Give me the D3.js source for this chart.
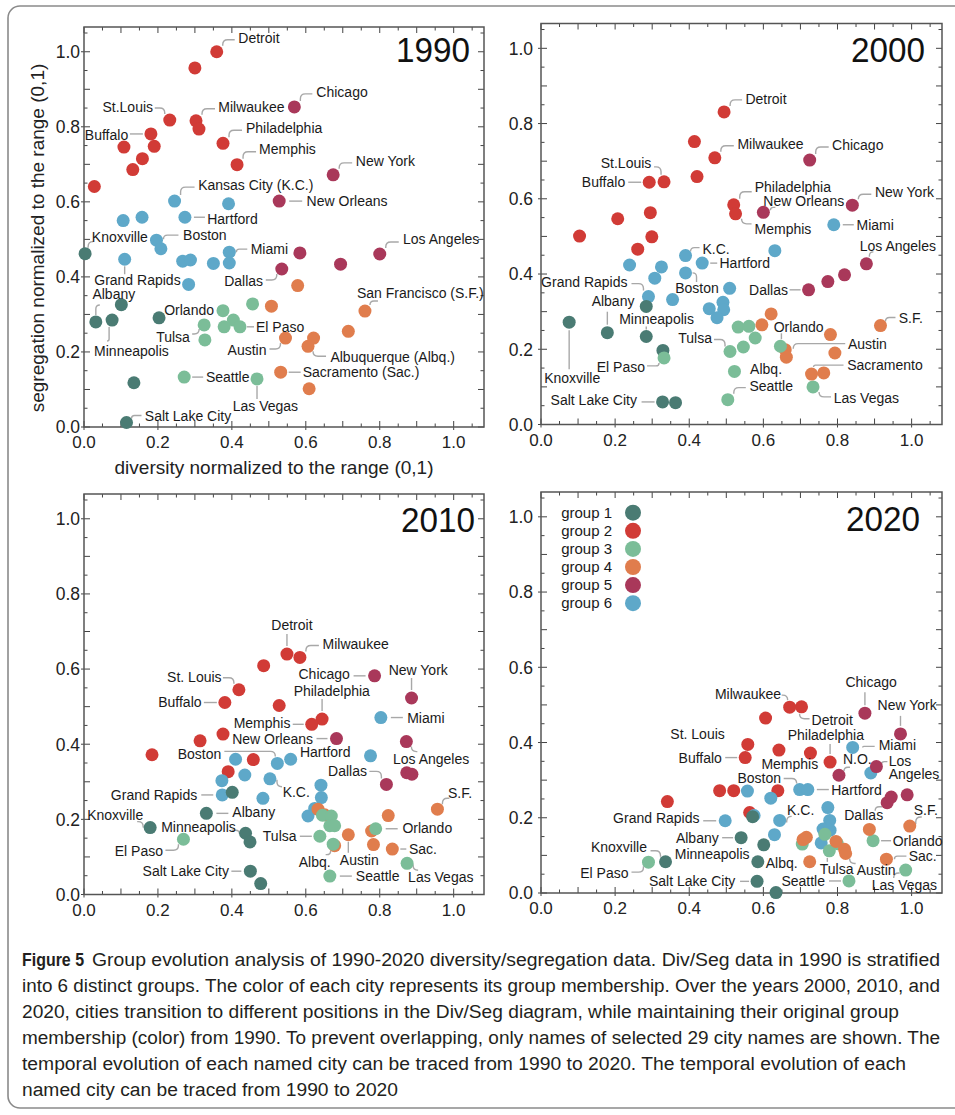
<!DOCTYPE html>
<html>
<head>
<meta charset="utf-8">
<script src="https://cdn.jsdelivr.net/npm/d3@7"></script>
<style>
body { margin: 0; background: #fff; }
svg text { font-family: 'Liberation Sans', Arial, Helvetica, sans-serif; }
</style>
</head>
<body>
<svg width="955" height="1115"></svg>
<script>
// group colours / legend
var groupColors = ["#4a7b73", "#d13b36", "#7bbd98", "#e07d4d", "#a9385a", "#5ea8c9"]
var groupNames = ["group 1", "group 2", "group 3", "group 4", "group 5", "group 6"]
var tickValues = [0, 0.2, 0.4, 0.6, 0.8, 1.0]

// [name, diversity, segregation, group]
var cities1990 = [
  ["Detroit", 0.359, 1.000, 2], ["", 0.300, 0.957, 2], ["Chicago", 0.569, 0.853, 5],
  ["St.Louis", 0.232, 0.818, 2], ["Milwaukee", 0.303, 0.816, 2], ["", 0.311, 0.794, 2],
  ["Buffalo", 0.181, 0.781, 2], ["", 0.108, 0.746, 2], ["", 0.190, 0.748, 2],
  ["Philadelphia", 0.376, 0.756, 2], ["", 0.158, 0.715, 2], ["", 0.132, 0.686, 2],
  ["Memphis", 0.414, 0.699, 2], ["New York", 0.674, 0.672, 5], ["", 0.028, 0.641, 2],
  ["Kansas City (K.C.)", 0.245, 0.602, 6], ["", 0.391, 0.595, 6], ["New Orleans", 0.528, 0.602, 5],
  ["", 0.106, 0.550, 6], ["", 0.157, 0.559, 6], ["Hartford", 0.273, 0.559, 6],
  ["Boston", 0.196, 0.498, 6], ["", 0.208, 0.475, 6], ["Knoxville", 0.003, 0.462, 1],
  ["Grand Rapids", 0.110, 0.447, 6], ["", 0.267, 0.442, 6], ["", 0.288, 0.445, 6],
  ["", 0.350, 0.436, 6], ["Miami", 0.393, 0.466, 6], ["", 0.393, 0.437, 6],
  ["", 0.283, 0.380, 6], ["", 0.584, 0.464, 5], ["Dallas", 0.535, 0.421, 5],
  ["", 0.694, 0.434, 5], ["Los Angeles", 0.800, 0.461, 5], ["", 0.578, 0.377, 4],
  ["", 0.456, 0.328, 3], ["", 0.507, 0.322, 4], ["San Francisco (S.F.)", 0.760, 0.309, 4],
  ["", 0.101, 0.326, 1], ["Albany", 0.032, 0.280, 1], ["Minneapolis", 0.076, 0.285, 1],
  ["", 0.203, 0.291, 1], ["Orlando", 0.376, 0.310, 3], ["", 0.404, 0.285, 3],
  ["", 0.379, 0.267, 3], ["El Paso", 0.422, 0.267, 3], ["Tulsa", 0.325, 0.272, 3],
  ["", 0.327, 0.232, 3], ["", 0.715, 0.255, 4], ["Austin", 0.545, 0.237, 4],
  ["", 0.621, 0.237, 4], ["Albuquerque (Albq.)", 0.606, 0.215, 4], ["Seattle", 0.271, 0.133, 3],
  ["Las Vegas", 0.468, 0.128, 3], ["Sacramento (Sac.)", 0.532, 0.146, 4], ["", 0.609, 0.102, 4],
  ["", 0.135, 0.118, 1], ["Salt Lake City", 0.115, 0.012, 1]
]

var cities2000 = [
  ["Detroit", 0.494, 0.831, 2], ["", 0.414, 0.752, 2], ["Milwaukee", 0.469, 0.709, 2],
  ["Chicago", 0.725, 0.703, 5], ["", 0.421, 0.659, 2], ["Buffalo", 0.292, 0.644, 2],
  ["St.Louis", 0.332, 0.645, 2], ["Philadelphia", 0.520, 0.584, 2], ["Memphis", 0.525, 0.560, 2],
  ["New Orleans", 0.600, 0.564, 5], ["New York", 0.840, 0.583, 5], ["Miami", 0.790, 0.531, 6],
  ["", 0.207, 0.547, 2], ["", 0.295, 0.563, 2], ["", 0.104, 0.501, 2],
  ["", 0.299, 0.499, 2], ["", 0.261, 0.466, 2], ["K.C.", 0.390, 0.449, 6],
  ["Hartford", 0.435, 0.429, 6], ["", 0.631, 0.462, 6], ["Los Angeles", 0.878, 0.427, 5],
  ["", 0.819, 0.398, 5], ["", 0.774, 0.380, 5], ["Dallas", 0.722, 0.358, 5],
  ["", 0.239, 0.424, 6], ["", 0.325, 0.419, 6], ["Boston", 0.390, 0.403, 6],
  ["", 0.307, 0.389, 6], ["", 0.509, 0.362, 6], ["Grand Rapids", 0.290, 0.340, 6],
  ["", 0.355, 0.332, 6], ["", 0.491, 0.325, 6], ["", 0.454, 0.308, 6],
  ["", 0.493, 0.305, 6], ["", 0.475, 0.284, 6], ["Albany", 0.179, 0.244, 1],
  ["", 0.284, 0.314, 1], ["Minneapolis", 0.284, 0.234, 1], ["Knoxville", 0.076, 0.272, 1],
  ["", 0.329, 0.197, 1], ["El Paso", 0.332, 0.177, 3], ["Salt Lake City", 0.328, 0.060, 1],
  ["", 0.363, 0.058, 1], ["", 0.532, 0.259, 3], ["", 0.561, 0.261, 3],
  ["", 0.578, 0.230, 3], ["", 0.546, 0.206, 3], ["Tulsa", 0.510, 0.194, 3],
  ["", 0.522, 0.141, 3], ["Seattle", 0.504, 0.066, 3], ["", 0.621, 0.294, 4],
  ["", 0.596, 0.265, 4], ["Austin", 0.659, 0.199, 4], ["Albq.", 0.662, 0.179, 4],
  ["Orlando", 0.646, 0.208, 3], ["Las Vegas", 0.734, 0.100, 3], ["", 0.781, 0.239, 4],
  ["", 0.793, 0.190, 4], ["Sacramento", 0.730, 0.134, 4], ["", 0.763, 0.137, 4],
  ["S.F.", 0.916, 0.263, 4]
]

var cities2010 = [
  ["Detroit", 0.549, 0.640, 2], ["Milwaukee", 0.584, 0.631, 2], ["", 0.486, 0.609, 2],
  ["Chicago", 0.786, 0.582, 5], ["St. Louis", 0.419, 0.545, 2], ["New York", 0.886, 0.523, 5],
  ["Buffalo", 0.381, 0.511, 2], ["", 0.528, 0.503, 2], ["Philadelphia", 0.644, 0.467, 2],
  ["Memphis", 0.616, 0.453, 2], ["Miami", 0.803, 0.471, 6], ["New Orleans", 0.683, 0.415, 5],
  ["Los Angeles", 0.872, 0.407, 5], ["", 0.376, 0.427, 2], ["", 0.314, 0.409, 2],
  ["", 0.184, 0.372, 2], ["", 0.458, 0.359, 2], ["", 0.390, 0.327, 2],
  ["", 0.410, 0.360, 6], ["Boston", 0.523, 0.349, 6], ["Hartford", 0.559, 0.360, 6],
  ["", 0.775, 0.369, 6], ["", 0.873, 0.324, 5], ["", 0.887, 0.320, 5],
  ["Dallas", 0.818, 0.293, 5], ["", 0.373, 0.303, 6], ["", 0.435, 0.318, 6],
  ["K.C.", 0.503, 0.308, 6], ["Grand Rapids", 0.374, 0.265, 6], ["", 0.484, 0.256, 6],
  ["", 0.641, 0.291, 6], ["", 0.642, 0.258, 6], ["", 0.624, 0.229, 6],
  ["", 0.606, 0.209, 6], ["", 0.401, 0.272, 1], ["Albany", 0.331, 0.216, 1],
  ["Knoxville", 0.179, 0.178, 1], ["Minneapolis", 0.437, 0.163, 1], ["", 0.449, 0.140, 1],
  ["Salt Lake City", 0.450, 0.062, 1], ["", 0.478, 0.029, 1], ["", 0.633, 0.227, 4],
  ["", 0.651, 0.212, 4], ["Austin", 0.715, 0.159, 4], ["", 0.778, 0.169, 4],
  ["", 0.783, 0.133, 4], ["Sac.", 0.834, 0.121, 4], ["", 0.823, 0.210, 4],
  ["S.F.", 0.956, 0.227, 4], ["Albq.", 0.678, 0.130, 4], ["El Paso", 0.269, 0.147, 3],
  ["Tulsa", 0.638, 0.155, 3], ["", 0.645, 0.211, 3], ["", 0.669, 0.209, 3],
  ["", 0.665, 0.183, 3], ["", 0.678, 0.183, 3], ["", 0.674, 0.134, 3],
  ["Orlando", 0.789, 0.175, 3], ["Las Vegas", 0.874, 0.083, 3], ["Seattle", 0.665, 0.049, 3]
]

var cities2020 = [
  ["Milwaukee", 0.671, 0.494, 2], ["Detroit", 0.703, 0.495, 2], ["", 0.606, 0.465, 2],
  ["Chicago", 0.874, 0.478, 5], ["New York", 0.970, 0.423, 5], ["St. Louis", 0.558, 0.395, 2],
  ["Buffalo", 0.551, 0.360, 2], ["", 0.642, 0.380, 2], ["", 0.727, 0.372, 2],
  ["Philadelphia", 0.780, 0.348, 2], ["Miami", 0.841, 0.387, 6], ["N.O.", 0.804, 0.313, 5],
  ["", 0.890, 0.319, 6], ["Los\nAngeles", 0.905, 0.336, 5], ["", 0.482, 0.272, 2],
  ["", 0.520, 0.272, 2], ["Memphis", 0.639, 0.272, 2], ["", 0.557, 0.271, 6],
  ["Boston", 0.698, 0.275, 6], ["Hartford", 0.720, 0.275, 6], ["", 0.620, 0.252, 6],
  ["", 0.341, 0.243, 2], ["Dallas", 0.934, 0.240, 5], ["", 0.945, 0.255, 5],
  ["", 0.988, 0.261, 5], ["", 0.563, 0.214, 2], ["", 0.575, 0.206, 6],
  ["", 0.571, 0.203, 1], ["Grand Rapids", 0.497, 0.192, 6], ["K.C.", 0.644, 0.193, 6],
  ["", 0.774, 0.227, 6], ["", 0.779, 0.193, 6], ["", 0.761, 0.170, 6],
  ["", 0.780, 0.167, 6], ["", 0.630, 0.155, 6], ["", 0.756, 0.133, 6],
  ["Albany", 0.540, 0.147, 1], ["", 0.601, 0.128, 1], ["Minneapolis", 0.585, 0.083, 1],
  ["Knoxville", 0.336, 0.083, 1], ["Salt Lake City", 0.583, 0.031, 1], ["", 0.634, 0.001, 1],
  ["El Paso", 0.290, 0.082, 3], ["", 0.766, 0.156, 3], ["", 0.800, 0.131, 3],
  ["Tulsa", 0.778, 0.112, 3], ["", 0.705, 0.130, 3], ["Orlando", 0.896, 0.139, 3],
  ["Seattle", 0.831, 0.032, 3], ["Las Vegas", 0.984, 0.061, 3], ["", 0.707, 0.142, 4],
  ["", 0.716, 0.148, 4], ["", 0.796, 0.137, 4], ["", 0.819, 0.116, 4],
  ["Austin", 0.822, 0.105, 4], ["Albq.", 0.725, 0.083, 4], ["", 0.886, 0.169, 4],
  ["Sac.", 0.932, 0.090, 4], ["S.F.", 0.995, 0.178, 4]
]

// label placement: [text dx, text dy, anchor, leader sx, sy, ex, ey] (pixel offsets from the dot)
var labels1990 = {
  "Detroit": [21.6, -13.4, "start", 6, -6, 18, -12],
  "Chicago": [22, -15, "start", 6, -6, 18, -13],
  "St.Louis": [-16.7, -12.7, "end", -5, -6, -15, -12],
  "Milwaukee": [22.3, -13.4, "start", 6, -6, 19, -12],
  "Buffalo": [-22.7, 1, "end", -8, 0, -21, 0],
  "Philadelphia": [23, -15, "start", 6, -6, 19, -13],
  "Memphis": [22, -15.4, "start", 6, -6, 19, -13],
  "New York": [22.7, -13.7, "start", 6, -6, 19, -12],
  "Kansas City (K.C.)": [23.6, -16, "start", 6, -6, 20, -14],
  "New Orleans": [27.4, 0, "start", 10, 0, 23, 0],
  "Hartford": [22.3, 1.3, "start", 9, 0, 20, 0],
  "Boston": [26.6, -5, "start", 7, -1, 22, -5],
  "Knoxville": [6.7, -16.6, "start", 3, -6, 8, -12],
  "Miami": [21.4, -2.7, "start", 7, 0, 18, -3],
  "Los Angeles": [23.3, -15.4, "start", 6, -6, 19, -12],
  "Grand Rapids": [-30.4, 21, "start", 0, 7, 0, 15],
  "Dallas": [-18.7, 12.3, "end", -5, 5, -16, 11],
  "San Francisco (S.F.)": [-8, -18, "start", 5, -6, 13, -10],
  "Albany": [-3.4, -27.7, "start", 0, -7, 4, -17],
  "Orlando": [-9, -1, "end"],
  "El Paso": [16, 0, "start", 7, 0, 14, 0],
  "Tulsa": [-14.3, 11.7, "end", -5, 4, -12, 9],
  "Minneapolis": [-18, 30.7, "start", -3, 7, -5, 21],
  "Austin": [-19, 11.6, "end", -5, 5, -16, 11],
  "Albuquerque (Albq.)": [22.4, 10.7, "start", 5, 5, 18, 10],
  "Sacramento (Sac.)": [22, 0, "start", 8, 0, 20, 0],
  "Seattle": [21.7, 0, "start", 8, 0, 19, 0],
  "Las Vegas": [-24.3, 27.3, "start", 0, 7, 0, 20],
  "Salt Lake City": [18.3, -6.3, "start", 5, -4, 15, -7]
}

var labels2000 = {
  "Detroit": [21.3, -13.3, "start", 6, -6, 18, -12],
  "Milwaukee": [22.6, -13.7, "start", 6, -6, 19, -12],
  "Chicago": [22.4, -15.3, "start", 6, -6, 19, -13],
  "St.Louis": [-12.7, -18.7, "end", -3, -7, -10, -15],
  "Buffalo": [-24, 0, "end", -8, 0, -21, 0],
  "Philadelphia": [21, -17.5, "start", 6, -6, 18, -13],
  "New Orleans": [0, -11, "start", 7, -2, 12, -5],
  "New York": [22.6, -13, "start", 6, -6, 19, -11],
  "Memphis": [19, 15, "start", 6, 5, 16, 10],
  "Miami": [22.7, 0, "start", 9, 0, 20, 0],
  "K.C.": [17, -6.7, "start", 5, -4, 14, -8],
  "Hartford": [17.3, 0, "start", 8, 0, 15, 0],
  "Los Angeles": [-6.7, -18.3, "start", 3, -7, 7, -12],
  "Grand Rapids": [-21, -15, "end", -5, -6, -17, -13],
  "Boston": [-10.3, 15, "start", 11, 9, 7, 0],
  "Dallas": [-20.6, 0, "end", -8, 0, -19, 0],
  "Albany": [5.7, -31.6, "middle", 0, -8, 0, -21],
  "Minneapolis": [10.3, -17.7, "middle", 0, -7, 0, -10],
  "S.F.": [18.3, -7.3, "start", 5, -4, 15, -8],
  "Orlando": [-6.7, -19.3, "start", 1, -7, 1, -13],
  "Austin": [62.7, -6, "start", 8, -1, 60, -6],
  "Tulsa": [-18, -13.3, "end", -5, -5, -16, -12],
  "Albq.": [-4.3, 12, "end"],
  "El Paso": [-19, 9, "end", -5, 5, -17, 8],
  "Sacramento": [35.7, -9.4, "start", 2, -7, 32, -9],
  "Seattle": [21.6, -13.6, "start", 6, -6, 18, -12],
  "Knoxville": [3, 55.6, "middle", 0, 8, 0, 47],
  "Las Vegas": [20.6, 10.6, "start", 6, 5, 18, 10],
  "Salt Lake City": [-25.6, -1.7, "end", -8, 0, -21, 0]
}

var labels2010 = {
  "Detroit": [5, -29.3, "middle", 0, -8, 0, -20],
  "Milwaukee": [22.7, -13.7, "start", 6, -6, 19, -12],
  "St. Louis": [-17.3, -12.7, "end", -5, -6, -16, -12],
  "Chicago": [-24.7, -1.7, "end", -9, 0, -21, 0],
  "New York": [6.7, -28, "middle", 0, -8, 0, -20],
  "Buffalo": [-23.3, -1, "end", -8, 0, -21, 0],
  "Philadelphia": [9.7, -28.3, "middle", 0, -8, 0, -20],
  "Memphis": [-21.3, -1.6, "end", -8, 0, -19, 0],
  "Miami": [26.3, 0, "start", 10, 0, 22, 0],
  "New Orleans": [-23.4, 0, "end", -9, 0, -20, 0],
  "Los Angeles": [-13.4, 17.3, "start", 5, 5, 11, 10],
  "Boston": [-56, -9.3, "end", -2, -7, -53, -12],
  "Hartford": [9.3, -7.6, "start"],
  "Dallas": [-19.4, -13.6, "end", -5, -6, -17, -13],
  "K.C.": [12.7, 13.6, "start", 7, 1, 12, 8],
  "Grand Rapids": [-25, 0, "end", -9, 0, -21, 0],
  "Albany": [26, -1.6, "start", 10, 0, 22, 0],
  "S.F.": [10.6, -16, "start", 5, -5, 12, -11],
  "Knoxville": [-7, -12.7, "end", -7, 0, -13, -6],
  "Orlando": [26.7, -1, "start", 10, 0, 22, 0],
  "Minneapolis": [-9.7, -6.8, "end", -6, 1, -14, -3],
  "Tulsa": [-23.3, 0, "end", -8, 0, -20, 0],
  "El Paso": [-20.4, 12, "end", -5, 5, -18, 11],
  "Austin": [11, 25.3, "middle", 0, 7, 0, 18],
  "Albq.": [-4, 16, "end", -4, 5, -9, 9],
  "Sac.": [16.6, 0, "start", 8, 0, 14, 0],
  "Las Vegas": [1, 13.7, "start", 6, 1, 11, 7],
  "Salt Lake City": [-21.4, 0, "end", -9, 0, -19, 0],
  "Seattle": [26, 0, "start", 10, 0, 22, 0]
}

var labels2020 = {
  "Chicago": [6.2, -31.7, "middle", 0, -8, 0, -21],
  "Milwaukee": [-8.6, -13.4, "end", -2, -7, -8, -12],
  "Detroit": [10, 13, "start", -2, 7, 8, 12],
  "New York": [6.7, -29, "middle", 0, -8, 0, -18],
  "St. Louis": [-23, -10, "end"],
  "Buffalo": [-23.3, 0, "end", -8, 0, -20, 0],
  "Philadelphia": [-4.2, -26.7, "middle", 0, -8, 0, -18],
  "Miami": [26, -2, "start", 10, 0, 22, -1],
  "N.O.": [4, -16, "start", 5, -4, 11, -8],
  "Los\nAngeles": [12.3, -6, "start", 5, -2, 11, -5],
  "Memphis": [12, -27, "middle"],
  "Boston": [-18.6, -12, "end", -3, -6, -16, -11],
  "Hartford": [23.4, 0.7, "start", 9, 0, 21, 0],
  "Dallas": [-4, 12.7, "end", -12, 8, -5, 4],
  "K.C.": [7.4, -10, "start", 7, 2, 12, -4],
  "S.F.": [4, -15.7, "start", 6, -2, 12, -9],
  "Grand Rapids": [-25.7, -2.4, "end", -9, 0, -22, 0],
  "Orlando": [19.6, 0, "start", 8, 0, 18, 0],
  "Albany": [-22.4, 0, "end", -8, 0, -19, 0],
  "Knoxville": [-18.6, -15, "end", -5, -5, -15, -11],
  "Minneapolis": [-8.3, -7.7, "end"],
  "El Paso": [-20, 11.3, "end", -5, 4, -17, 10],
  "Albq.": [-12, 1.6, "end"],
  "Tulsa": [7.3, 17.6, "middle", -2, 7, -2, 11],
  "Austin": [11, 16.2, "start", 4, 5, 10, 10],
  "Sac.": [22.3, -3.3, "start", 8, 0, 20, -3],
  "Seattle": [-24, 0, "end", -8, 0, -20, 0],
  "Las Vegas": [-34, 15, "start", -12, 8, -6, 3],
  "Salt Lake City": [-21.7, 0, "end", -8, 0, -17, 0]
}

var captionLines = [
  "Group evolution analysis of 1990-2020 diversity/segregation data. Div/Seg data in 1990 is stratified",
  "into 6 distinct groups. The color of each city represents its group membership. Over the years 2000, 2010, and",
  "2020, cities transition to different positions in the Div/Seg diagram, while maintaining their original group",
  "membership (color) from 1990. To prevent overlapping, only names of selected 29 city names are shown. The",
  "temporal evolution of each named city can be traced from 1990 to 2020. The temporal evolution of each",
  "named city can be traced from 1990 to 2020"
]

var panels = [
  { year: "1990", data: cities1990, labels: labels1990, left: 84, right: 484, top: 27, bottom: 427, yGap: 4, yearX: 470, yearY: 62, titles: true },
  { year: "2000", data: cities2000, labels: labels2000, left: 541, right: 942, top: 23.5, bottom: 424.5, yGap: 8, yearX: 925, yearY: 62 },
  { year: "2010", data: cities2010, labels: labels2010, left: 84, right: 484, top: 494, bottom: 894.5, yGap: 4, yearX: 475, yearY: 532 },
  { year: "2020", data: cities2020, labels: labels2020, left: 541, right: 942, top: 492, bottom: 893, yGap: 8, yearX: 920, yearY: 531, legend: true }
]

var svg = d3.select("svg")
var R = 6.5

// outer figure box
svg.append("rect")
  .attr("x", 8).attr("y", 6).attr("width", 970).attr("height", 1102)
  .attr("rx", 12)
  .attr("fill", "none").attr("stroke", "#8a8a8a").attr("stroke-width", 1.6)

panels.forEach(drawPanel)
drawCaption()

function leaderPath(cx, cy, L) {
  var sx = cx + L[0], sy = cy + L[1], ex = cx + L[2], ey = cy + L[3]
  var dx = ex - sx, dy = ey - sy
  if (Math.abs(dx) < 1 || Math.abs(dy) < 1) return "M" + sx + "," + sy + "L" + ex + "," + ey
  var r = Math.min(5, Math.abs(dx), Math.abs(dy))
  var gx = dx > 0 ? 1 : -1, gy = dy > 0 ? 1 : -1
  return "M" + sx + "," + sy + "L" + sx + "," + (ey - gy * r) +
    "Q" + sx + "," + ey + " " + (sx + gx * r) + "," + ey + "L" + ex + "," + ey
}

function drawPanel(p) {
  var x = d3.scaleLinear().domain([0, 1.082]).range([p.left, p.right])
  var y = d3.scaleLinear().domain([0, 1.066]).range([p.bottom, p.top])
  var g = svg.append("g")

  // ticks on all four sides, pointing in
  var minor = d3.range(0, 1.06, 0.05)
  var tk = g.append("g").attr("stroke", "#444").attr("stroke-width", 1)
  minor.forEach(function(v) {
    var major = Math.abs(v * 10 - Math.round(v * 10)) < 0.01
    var len = major ? 6 : 3.5
    var labelled = Math.abs(v * 5 - Math.round(v * 5)) < 0.01
    var out = labelled ? 3 : 0
    tk.append("line").attr("x1", x(v)).attr("x2", x(v)).attr("y1", p.bottom + out).attr("y2", p.bottom - len)
    tk.append("line").attr("x1", x(v)).attr("x2", x(v)).attr("y1", p.top).attr("y2", p.top + len)
    tk.append("line").attr("y1", y(v)).attr("y2", y(v)).attr("x1", p.left - out).attr("x2", p.left + len)
    tk.append("line").attr("y1", y(v)).attr("y2", y(v)).attr("x1", p.right).attr("x2", p.right - len)
  })

  g.append("rect")
    .attr("x", p.left).attr("y", p.top)
    .attr("width", p.right - p.left).attr("height", p.bottom - p.top)
    .attr("fill", "none").attr("stroke", "#555").attr("stroke-width", 1.5)

  g.selectAll(".xl").data(tickValues).enter().append("text")
    .attr("x", function(d) { return x(d) })
    .attr("y", p.bottom + 21)
    .attr("text-anchor", "middle")
    .attr("font-size", 17).attr("fill", "#222")
    .text(function(d) { return d.toFixed(1) })

  g.selectAll(".yl").data(tickValues).enter().append("text")
    .attr("x", p.left - p.yGap)
    .attr("y", function(d) { return y(d) })
    .attr("dy", "0.36em")
    .attr("text-anchor", "end")
    .attr("font-size", 17.5).attr("fill", "#222")
    .text(function(d) { return d.toFixed(1) })

  // year
  g.append("text")
    .attr("x", p.yearX).attr("y", p.yearY)
    .attr("text-anchor", "end")
    .attr("font-family", "'Open Sans', sans-serif")
    .attr("font-size", 35).attr("fill", "#111")
    .attr("textLength", 74).attr("lengthAdjust", "spacingAndGlyphs")
    .text(p.year)

  if (p.titles) {
    g.append("text")
      .attr("x", 274).attr("y", 474)
      .attr("text-anchor", "middle")
      .attr("font-size", 19).attr("fill", "#222")
      .text("diversity normalized to the range (0,1)")
    g.append("text")
      .attr("transform", "translate(44,238) rotate(-90)")
      .attr("text-anchor", "middle")
      .attr("font-size", 19).attr("fill", "#222")
      .text("segregation normalized to the range (0,1)")
  }

  // leaders under the dots
  var named = p.data.filter(function(d) { return d[0] && p.labels[d[0]] })
  g.selectAll(".leader").data(named.filter(function(d) { return p.labels[d[0]].length > 3 }))
    .enter().append("path")
    .attr("d", function(d) { return leaderPath(x(d[1]), y(d[2]), p.labels[d[0]].slice(3)) })
    .attr("fill", "none").attr("stroke", "#a8a8a8").attr("stroke-width", 1.4)

  g.selectAll("circle.city").data(p.data).enter().append("circle")
    .attr("class", "city")
    .attr("cx", function(d) { return x(d[1]) })
    .attr("cy", function(d) { return y(d[2]) })
    .attr("r", R)
    .attr("fill", function(d) { return groupColors[d[3] - 1] })

  var lab = g.selectAll(".lab").data(named).enter().append("text")
    .attr("font-size", 14).attr("fill", "#1a1a1a")
    .attr("text-anchor", function(d) { return p.labels[d[0]][2] })
    .attr("x", function(d) { return x(d[1]) + p.labels[d[0]][0] })
    .attr("y", function(d) { return y(d[2]) + p.labels[d[0]][1] })
  lab.each(function(d) {
    var parts = d[0].split("\n")
    var t = d3.select(this)
    var lx = x(d[1]) + p.labels[d[0]][0]
    parts.forEach(function(s, i) {
      t.append("tspan").attr("x", lx).attr("dy", i == 0 ? "0.36em" : 13).text(s)
    })
  })

  if (p.legend) {
    var lg = g.append("g")
    lg.selectAll("circle").data(groupNames).enter().append("circle")
      .attr("cx", 633).attr("cy", function(d, i) { return 512.7 + i * 18.1 })
      .attr("r", 8)
      .attr("fill", function(d, i) { return groupColors[i] })
    lg.selectAll("text").data(groupNames).enter().append("text")
      .attr("x", 612).attr("y", function(d, i) { return 512.7 + i * 18.1 })
      .attr("dy", "0.33em")
      .attr("text-anchor", "end")
      .attr("font-size", 15).attr("fill", "#1a1a1a")
      .text(function(d) { return d })
  }
}

function drawCaption() {
  var ends = [940, 940, 899, 940, 906, 398]
  var cap = svg.append("g")
    .attr("font-family", "'Liberation Sans Narrow', 'Open Sans', sans-serif")
    .attr("font-size", 18).attr("fill", "#231f20")
  cap.append("text")
    .attr("x", 22).attr("y", 966)
    .attr("font-weight", "bold")
    .attr("textLength", 62).attr("lengthAdjust", "spacingAndGlyphs")
    .text("Figure 5")
  captionLines.forEach(function(s, i) {
    var x0 = i == 0 ? 92 : 22
    cap.append("text")
      .attr("x", x0).attr("y", 966 + i * 26)
      .attr("textLength", ends[i] - x0).attr("lengthAdjust", "spacingAndGlyphs")
      .text(s)
  })
}
</script>
</body>
</html>
